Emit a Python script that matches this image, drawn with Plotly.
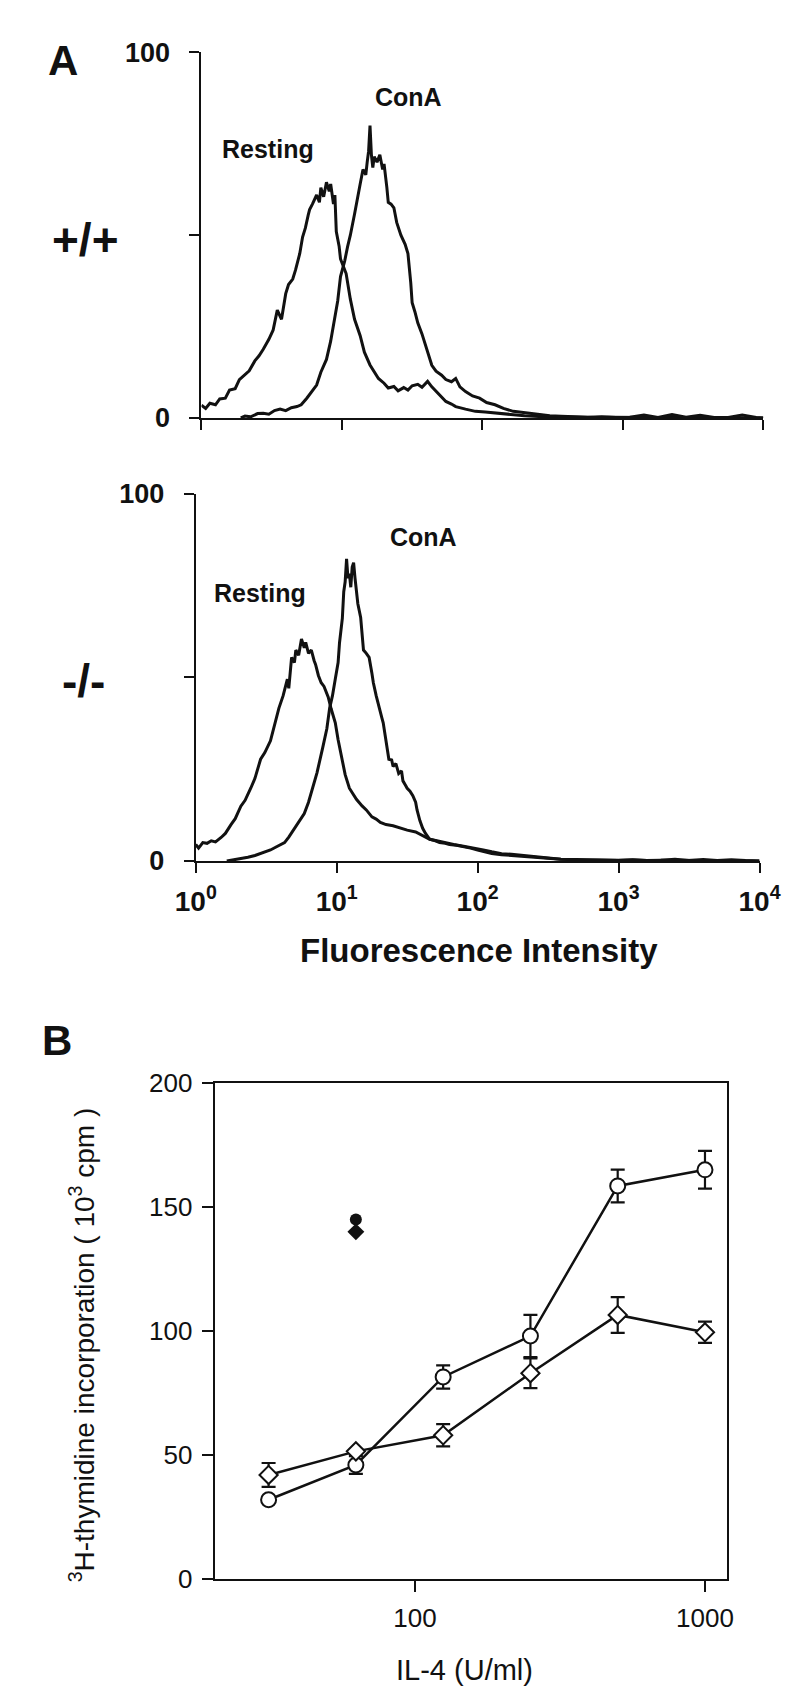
import plotly.graph_objects as go

W, H = 800, 1704

# ---------------- Panel A data (log10 fluorescence, % max counts) ----------------
TOP_RESTING = [(0.00, 3.5), (0.03, 2.6), (0.06, 4.0), (0.10, 3.6), (0.13, 5.2), (0.17, 5.4), (0.20, 7.6),
               (0.24, 8.0), (0.27, 10.5), (0.31, 11.8), (0.34, 12.9), (0.38, 15.6), (0.41, 17.0), (0.44, 18.8),
               (0.48, 21.5), (0.51, 24.0), (0.54, 29.5), (0.57, 27.0), (0.60, 34.0), (0.62, 36.5), (0.65, 38.0),
               (0.67, 40.5), (0.70, 45.0), (0.72, 49.5), (0.74, 52.0), (0.76, 55.5), (0.77, 57.0), (0.79, 58.5),
               (0.82, 61.0), (0.84, 59.0), (0.85, 63.0), (0.87, 60.5), (0.89, 64.5), (0.91, 62.0), (0.92, 64.0),
               (0.94, 58.5), (0.95, 61.0), (0.96, 51.0), (0.98, 47.0), (0.99, 43.5), (1.01, 41.5), (1.03, 39.5),
               (1.06, 32.5), (1.09, 27.0), (1.13, 22.5), (1.16, 18.0), (1.20, 14.5), (1.23, 12.5), (1.26, 10.8),
               (1.30, 9.5), (1.33, 8.2), (1.37, 8.6), (1.40, 7.4), (1.44, 8.3), (1.47, 7.6), (1.50, 8.8),
               (1.54, 9.2), (1.57, 8.4), (1.61, 10.0), (1.64, 8.5), (1.68, 7.0), (1.71, 5.6), (1.74, 4.5),
               (1.78, 3.8), (1.81, 3.1), (1.88, 2.4), (1.95, 1.8), (2.02, 1.6), (2.09, 1.3), (2.16, 1.0),
               (2.22, 0.9), (2.30, 0.6), (2.40, 0.4), (2.50, 0.3), (2.60, 0.2), (2.70, 0.3), (2.80, 0.1),
               (2.90, 0.2), (3.00, 0.1), (3.10, 0.2), (3.20, 0.1), (3.30, 0.1), (3.40, 0.2), (3.50, 0.1),
               (3.60, 0.1), (3.70, 0.1), (3.80, 0.1), (3.90, 0.0), (4.00, 0.0)]

TOP_CONA = [(0.28, 0.0), (0.31, 0.5), (0.35, 0.3), (0.40, 1.2), (0.44, 1.3), (0.48, 1.0), (0.52, 2.0),
            (0.56, 2.4), (0.60, 2.0), (0.64, 2.8), (0.68, 3.1), (0.71, 3.6), (0.75, 5.4), (0.78, 7.0),
            (0.82, 9.0), (0.85, 12.5), (0.89, 16.0), (0.92, 21.0), (0.94, 25.0), (0.97, 32.0), (0.99, 38.7),
            (1.02, 43.0), (1.04, 46.8), (1.06, 50.0), (1.09, 55.8), (1.11, 60.5), (1.13, 64.0), (1.15, 68.0),
            (1.17, 66.5), (1.18, 70.0), (1.19, 73.0), (1.20, 80.0), (1.21, 72.0), (1.22, 68.5), (1.23, 71.5),
            (1.25, 70.0), (1.27, 72.0), (1.29, 68.0), (1.30, 69.5), (1.32, 63.0), (1.33, 59.0), (1.35, 58.5),
            (1.37, 57.5), (1.39, 53.5), (1.42, 50.0), (1.45, 47.5), (1.47, 45.0), (1.49, 37.0), (1.50, 31.5),
            (1.52, 29.0), (1.54, 26.0), (1.57, 23.0), (1.59, 20.7), (1.62, 17.0), (1.64, 14.4), (1.67, 12.8),
            (1.71, 11.7), (1.74, 10.5), (1.78, 9.9), (1.81, 10.8), (1.84, 8.5), (1.88, 7.2), (1.93, 6.0),
            (1.98, 5.4), (2.03, 4.2), (2.09, 3.6), (2.15, 2.6), (2.22, 1.8), (2.30, 1.4), (2.39, 0.9),
            (2.48, 0.6), (2.56, 0.45), (2.65, 0.3), (2.75, 0.2), (2.85, 0.3), (2.95, 0.1), (3.05, 0.2),
            (3.15, 0.8), (3.25, 0.1), (3.35, 0.9), (3.45, 0.2), (3.55, 0.7), (3.65, 0.1), (3.75, 0.1),
            (3.85, 0.8), (3.95, 0.1), (4.00, 0.0)]

BOT_RESTING = [(0.00, 4.5), (0.02, 3.5), (0.05, 5.0), (0.08, 4.8), (0.11, 5.5), (0.14, 5.2), (0.18, 6.4),
               (0.21, 7.5), (0.25, 9.9), (0.28, 11.5), (0.32, 14.9), (0.35, 16.5), (0.39, 19.8), (0.42, 22.5),
               (0.46, 27.7), (0.49, 29.5), (0.53, 32.7), (0.56, 37.5), (0.59, 41.6), (0.62, 45.0), (0.65, 49.5),
               (0.66, 47.0), (0.68, 55.4), (0.70, 54.0), (0.71, 57.4), (0.73, 56.0), (0.75, 60.4), (0.77, 58.0),
               (0.78, 59.5), (0.80, 56.5), (0.82, 57.4), (0.84, 54.5), (0.85, 53.5), (0.87, 50.5), (0.89, 48.5),
               (0.91, 47.5), (0.94, 44.6), (0.96, 41.5), (0.99, 37.6), (1.01, 33.0), (1.04, 27.7), (1.06, 23.5),
               (1.09, 19.8), (1.12, 18.0), (1.14, 16.8), (1.18, 15.0), (1.21, 13.9), (1.25, 12.0), (1.28, 11.4),
               (1.31, 10.5), (1.35, 9.9), (1.40, 9.6), (1.45, 8.9), (1.50, 8.4), (1.56, 7.9), (1.61, 6.8),
               (1.66, 5.9), (1.71, 5.5), (1.76, 5.0), (1.83, 4.5), (1.90, 4.0), (1.97, 3.4), (2.04, 3.0),
               (2.10, 2.5), (2.17, 2.0), (2.24, 1.8), (2.31, 1.5), (2.38, 1.2), (2.45, 1.0), (2.52, 0.7),
               (2.59, 0.5), (2.70, 0.4), (2.80, 0.3), (2.90, 0.4), (3.00, 0.2), (3.10, 0.3), (3.20, 0.1),
               (3.30, 0.2), (3.40, 0.1), (3.50, 0.2), (3.60, 0.1), (3.70, 0.1), (3.80, 0.1), (3.90, 0.0),
               (4.00, 0.0)]

BOT_CONA = [(0.22, 0.0), (0.27, 0.3), (0.32, 0.5), (0.37, 1.0), (0.42, 1.5), (0.47, 2.2), (0.53, 3.0),
            (0.58, 4.0), (0.63, 5.0), (0.66, 6.5), (0.70, 8.9), (0.73, 10.5), (0.77, 12.9), (0.80, 16.0),
            (0.83, 19.8), (0.86, 24.0), (0.90, 30.7), (0.93, 36.0), (0.95, 41.6), (0.97, 45.0), (0.99, 49.5),
            (1.01, 54.0), (1.02, 59.4), (1.04, 66.0), (1.05, 73.3), (1.06, 76.0), (1.07, 82.2), (1.08, 77.0),
            (1.09, 78.2), (1.10, 74.5), (1.11, 80.0), (1.12, 81.2), (1.13, 77.0), (1.14, 73.3), (1.15, 70.0),
            (1.17, 66.3), (1.18, 62.0), (1.19, 57.4), (1.21, 56.5), (1.23, 55.4), (1.25, 51.0), (1.26, 48.5),
            (1.28, 45.0), (1.30, 41.6), (1.32, 39.0), (1.33, 37.6), (1.35, 32.0), (1.37, 27.7), (1.39, 27.5),
            (1.40, 25.7), (1.42, 26.5), (1.44, 23.8), (1.46, 24.5), (1.47, 21.8), (1.49, 20.5), (1.50, 19.8),
            (1.52, 19.0), (1.54, 17.8), (1.56, 16.0), (1.57, 13.9), (1.59, 11.0), (1.61, 8.9), (1.63, 7.5),
            (1.66, 5.9), (1.70, 5.5), (1.73, 5.0), (1.77, 4.8), (1.80, 4.5), (1.85, 4.3), (1.90, 4.0),
            (1.95, 3.5), (2.00, 3.0), (2.05, 2.5), (2.10, 2.0), (2.17, 1.7), (2.24, 1.5), (2.31, 1.2),
            (2.38, 1.0), (2.48, 0.7), (2.59, 0.5), (2.70, 0.3), (2.80, 0.2), (2.90, 0.3), (3.00, 0.1),
            (3.10, 0.3), (3.20, 0.1), (3.30, 0.2), (3.40, 0.5), (3.50, 0.1), (3.60, 0.4), (3.70, 0.1),
            (3.80, 0.3), (3.90, 0.1), (4.00, 0.0)]

FL_TICKS = [1, 10, 100, 1000, 10000]
FL_TICKTEXT = ["10<sup>0</sup>", "10<sup>1</sup>", "10<sup>2</sup>", "10<sup>3</sup>", "10<sup>4</sup>"]
COUNT_TICKS = [0, 100]
COUNT_MINOR = [50]

# ---------------- Panel B data ----------------
IL4 = [31.25, 62.5, 125, 250, 500, 1000]
CIRCLE_Y = [32.0, 46.0, 81.5, 98.0, 158.5, 165.0]
CIRCLE_ERR = [0.0, 3.6, 4.7, 8.5, 6.6, 7.6]
DIAMOND_Y = [42.0, 51.5, 58.0, 83.0, 106.5, 99.5]
DIAMOND_ERR = [4.8, 0.0, 4.5, 6.0, 7.2, 4.3]
FILLED_X = [62.5]
FILLED_CIRCLE_Y = [145.0]
FILLED_DIAMOND_Y = [140.0]
B_YTICKS = [0, 50, 100, 150, 200]
B_XTICKS = [100, 1000]


def px(x):
    return x / W


def py(y):
    return 1 - y / H


BOLD = "Liberation Sans, Arial, Helvetica, sans-serif"
REG = "Liberation Sans, Arial, Helvetica, sans-serif"
INK = "#111111"

fig = go.Figure()


def hist_trace(pts, xa, ya):
    return go.Scatter(x=[10 ** p[0] for p in pts], y=[p[1] for p in pts], mode="lines",
                      line=dict(color=INK, width=3.0), xaxis=xa, yaxis=ya, showlegend=False,
                      hoverinfo="skip")


fig.add_trace(hist_trace(TOP_RESTING, "x", "y"))
fig.add_trace(hist_trace(TOP_CONA, "x", "y"))
fig.add_trace(hist_trace(BOT_RESTING, "x2", "y2"))
fig.add_trace(hist_trace(BOT_CONA, "x2", "y2"))


def err(arr):
    return dict(type="data", array=arr, color=INK, thickness=2.2, width=7)


fig.add_trace(go.Scatter(x=IL4, y=CIRCLE_Y, error_y=err(CIRCLE_ERR), mode="lines+markers",
                         line=dict(color=INK, width=2.5),
                         marker=dict(symbol="circle", size=15, color="white", line=dict(color=INK, width=2)),
                         xaxis="x3", yaxis="y3", showlegend=False))
fig.add_trace(go.Scatter(x=IL4, y=DIAMOND_Y, error_y=err(DIAMOND_ERR), mode="lines+markers",
                         line=dict(color=INK, width=2.5),
                         marker=dict(symbol="diamond", size=14, color="white", line=dict(color=INK, width=2)),
                         xaxis="x3", yaxis="y3", showlegend=False))
fig.add_trace(go.Scatter(x=FILLED_X, y=FILLED_CIRCLE_Y, mode="markers",
                         marker=dict(symbol="circle", size=12, color=INK),
                         xaxis="x3", yaxis="y3", showlegend=False))
fig.add_trace(go.Scatter(x=FILLED_X, y=FILLED_DIAMOND_Y, mode="markers",
                         marker=dict(symbol="diamond", size=13, color=INK),
                         xaxis="x3", yaxis="y3", showlegend=False))

axis_a = dict(showgrid=False, zeroline=False, showline=True, linecolor=INK, linewidth=2.2,
              ticks="outside", ticklen=10, tickwidth=2.2, tickcolor=INK)
yfont_a = dict(family=BOLD, size=27, color=INK, weight="bold")
minor_a = dict(tickvals=COUNT_MINOR, ticks="outside", ticklen=10, tickwidth=2.2, tickcolor=INK, showgrid=False)

fig.update_layout(
    width=W, height=H, margin=dict(l=0, r=0, t=0, b=0),
    paper_bgcolor="white", plot_bgcolor="rgba(0,0,0,0)",
    xaxis=dict(axis_a, domain=[px(182), px(775)], anchor="y", type="log", range=[0, 4],
               tickvals=FL_TICKS, showticklabels=False),
    yaxis=dict(axis_a, domain=[py(402), py(30)], anchor="x", range=[0, 100],
               tickvals=COUNT_TICKS, minor=minor_a, tickfont=yfont_a, ticklabelstandoff=14),
    xaxis2=dict(axis_a, domain=[px(176), px(771)], anchor="y2", type="log", range=[0, 4],
                tickvals=FL_TICKS, ticktext=FL_TICKTEXT,
                tickfont=dict(family=BOLD, size=28, color=INK, weight="bold"), ticklabelstandoff=4),
    yaxis2=dict(axis_a, domain=[py(853), py(479)], anchor="x2", range=[0, 100],
                tickvals=COUNT_TICKS, minor=minor_a, tickfont=yfont_a, ticklabelstandoff=14),
    xaxis3=dict(showgrid=False, zeroline=False, showline=True, linecolor=INK, linewidth=2, mirror=True,
                domain=[px(196), px(737)], anchor="y3", type="log", range=[1.309, 3.077],
                tickvals=B_XTICKS, ticktext=[str(v) for v in B_XTICKS], ticks="outside", ticklen=11,
                tickwidth=2, tickcolor=INK, tickfont=dict(family=REG, size=26, color=INK),
                ticklabelstandoff=4),
    yaxis3=dict(showgrid=False, zeroline=False, showline=True, linecolor=INK, linewidth=2, mirror=True,
                domain=[py(1584), py(1079)], anchor="x3", range=[0, 200],
                tickvals=B_YTICKS, ticks="outside", ticklen=11, tickwidth=2, tickcolor=INK,
                tickfont=dict(family=REG, size=26, color=INK), ticklabelstandoff=4),
)


def ann(text, x, y, size, bold=True, **kw):
    fig.add_annotation(text=text, x=px(x), y=py(y), xref="paper", yref="paper", showarrow=False,
                       font=dict(family=BOLD if bold else REG, size=size, color=INK,
                                 weight="bold" if bold else "normal"),
                       xanchor="center", yanchor="middle", **kw)


ann("A", 36, 38, 42)
ann("+/+", 60, 221, 46)
ann("-/-", 58, 670, 46)
ann("Resting", 252, 128, 25)
ann("ConA", 400, 75, 25)
ann("Resting", 244, 580, 25)
ann("ConA", 416, 523, 25)
ann("Fluorescence Intensity", 475, 944, 33)
ann("B", 30, 1036, 42)
ann("<sup>3</sup>H-thymidine incorporation ( 10<sup>3</sup> cpm )", 56, 1346, 28, bold=False,
    textangle=-90)
ann("IL-4 (U/ml)", 460, 1677, 29, bold=False)

fig.write_html("out.html")
